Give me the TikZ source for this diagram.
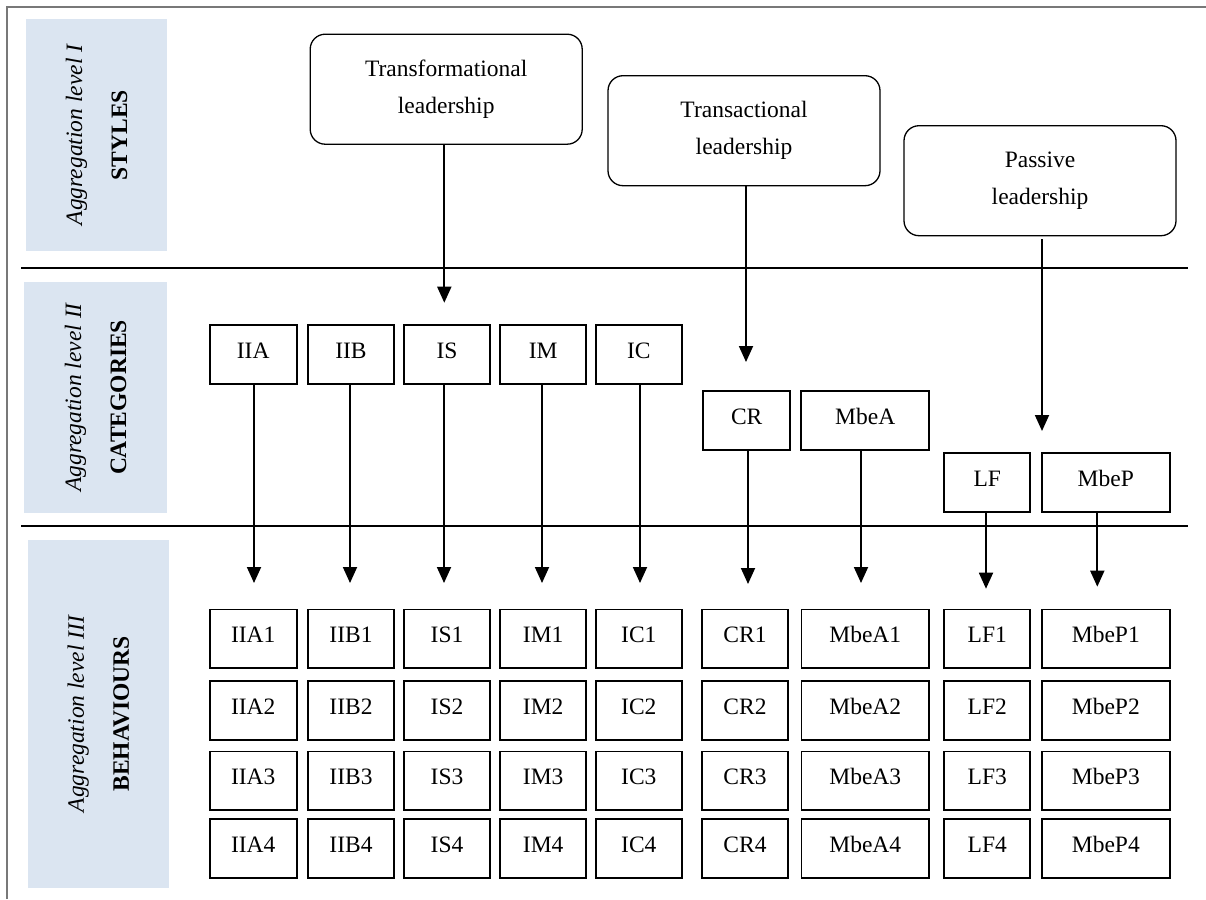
\documentclass[tikz,border=0pt]{standalone}
\usepackage{fontspec}
\setmainfont{Liberation Serif}
\usetikzlibrary{arrows.meta}
\definecolor{lvlfill}{RGB}{219,229,241}
\definecolor{framegray}{RGB}{120,120,120}

\begin{document}
\begin{tikzpicture}[x=1pt,y=-1pt,
  every node/.style={font=\fontsize{23.5}{37}\selectfont},
  lvlbox/.style={fill=lvlfill, rotate=90, align=center, inner sep=0pt,
    font=\fontsize{23.5}{45}\selectfont},
  stylebox/.style={draw, fill=white, rounded corners=15pt, line width=1.3pt,
    minimum width=272pt, minimum height=110pt, align=center, inner sep=0pt},
  catbox/.style={draw, line width=1.8pt, inner sep=0pt,
    text height=33.5pt, text depth=25.5pt},
  behbox/.style={draw, line width=1.8pt, inner sep=0pt,
    text height=33pt, text depth=25.5pt},
  arr/.style={line width=1.8pt, -{Triangle[width=14pt,length=16pt]}},
  sepline/.style={line width=1.8pt},
]
\useasboundingbox (0,0) rectangle (1206,899);

% outer frame (top and left edges)
\draw[framegray, line width=1.6pt] (7,899) -- (7,7) -- (1206,7);

% level separators
\draw[sepline] (21,268) -- (1188,268);
\draw[sepline] (21,526) -- (1188,526);

% level labels
\node[lvlbox, minimum width=232pt, minimum height=141pt] (lvlI) at (96.5,135)
  {{\itshape Aggregation level I}\\{\bfseries STYLES}};
\node[lvlbox, minimum width=231pt, minimum height=143pt] (lvlII) at (95.5,397.5)
  {{\itshape Aggregation level II}\\{\bfseries CATEGORIES}};
\node[lvlbox, minimum width=348pt, minimum height=141pt] (lvlIII) at (98.5,714)
  {{\itshape Aggregation level III}\\{\bfseries BEHAVIOURS}};

% leadership styles
\node[stylebox] (TF) at (446.2,89.2) {Transformational\\leadership};
\node[stylebox] (TA) at (744,130.7) {Transactional\\leadership};
\node[stylebox] (PA) at (1040,180.7) {Passive\\leadership};

% categories
\node[catbox, minimum width=87pt]    (IIA)  at (253.2,354.2) {IIA};
\node[catbox, minimum width=86.6pt]  (IIB)  at (351,354.2)   {IIB};
\node[catbox, minimum width=86.6pt]  (IS)   at (447,354.2)   {IS};
\node[catbox, minimum width=86.3pt]  (IM)   at (543.2,354.2) {IM};
\node[catbox, minimum width=86.3pt]  (IC)   at (638.8,354.2) {IC};
\node[catbox, minimum width=86.7pt]  (CR)   at (746.7,420.2) {CR};
\node[catbox, minimum width=127.7pt] (MbeA) at (865.2,420.2) {MbeA};
\node[catbox, minimum width=86pt]    (LF)   at (987.3,482.5) {LF};
\node[catbox, minimum width=128.3pt] (MbeP) at (1105.8,482.5) {MbeP};

% behaviours
\foreach \n/\x/\w in {IIA/253.2/87, IIB/351/86.6, IS/447/86.6, IM/543.2/86.3,
    IC/638.8/86.3, CR/745/86.6, MbeA/865.3/127.7, LF/987.3/86, MbeP/1105.8/128.3}{
  \foreach \r/\y in {1/638.7, 2/710.5, 3/780.7, 4/848.5}{
    \node[behbox, minimum width=\w pt] (\n\r) at (\x,\y) {\n\r};
  }
}

% arrow tips
\coordinate (tTF) at (444.3,302.7);
\coordinate (tTA) at (746,362);
\coordinate (tPA) at (1042,431);
\coordinate (tIIA) at (254,583);
\coordinate (tIIB) at (350,583);
\coordinate (tIS) at (444,583);
\coordinate (tIM) at (542,583);
\coordinate (tIC) at (640,583);
\coordinate (tCR) at (748,584);
\coordinate (tMbeA) at (861,583);
\coordinate (tLF) at (986,588.7);
\coordinate (tMbeP) at (1097.3,586.7);

% style -> category arrows
\draw[arr] (TF.south -| tTF) -- (tTF);
\draw[arr] (TA.south -| tTA) -- (tTA);
\draw[arr, shorten <=3pt] (PA.south -| tPA) -- (tPA);

% category -> behaviour arrows
\foreach \c in {IIA,IIB,IS,IM,IC,CR,MbeA,LF,MbeP}{
  \draw[arr] (\c.south -| t\c) -- (t\c);
}
\end{tikzpicture}
\end{document}
